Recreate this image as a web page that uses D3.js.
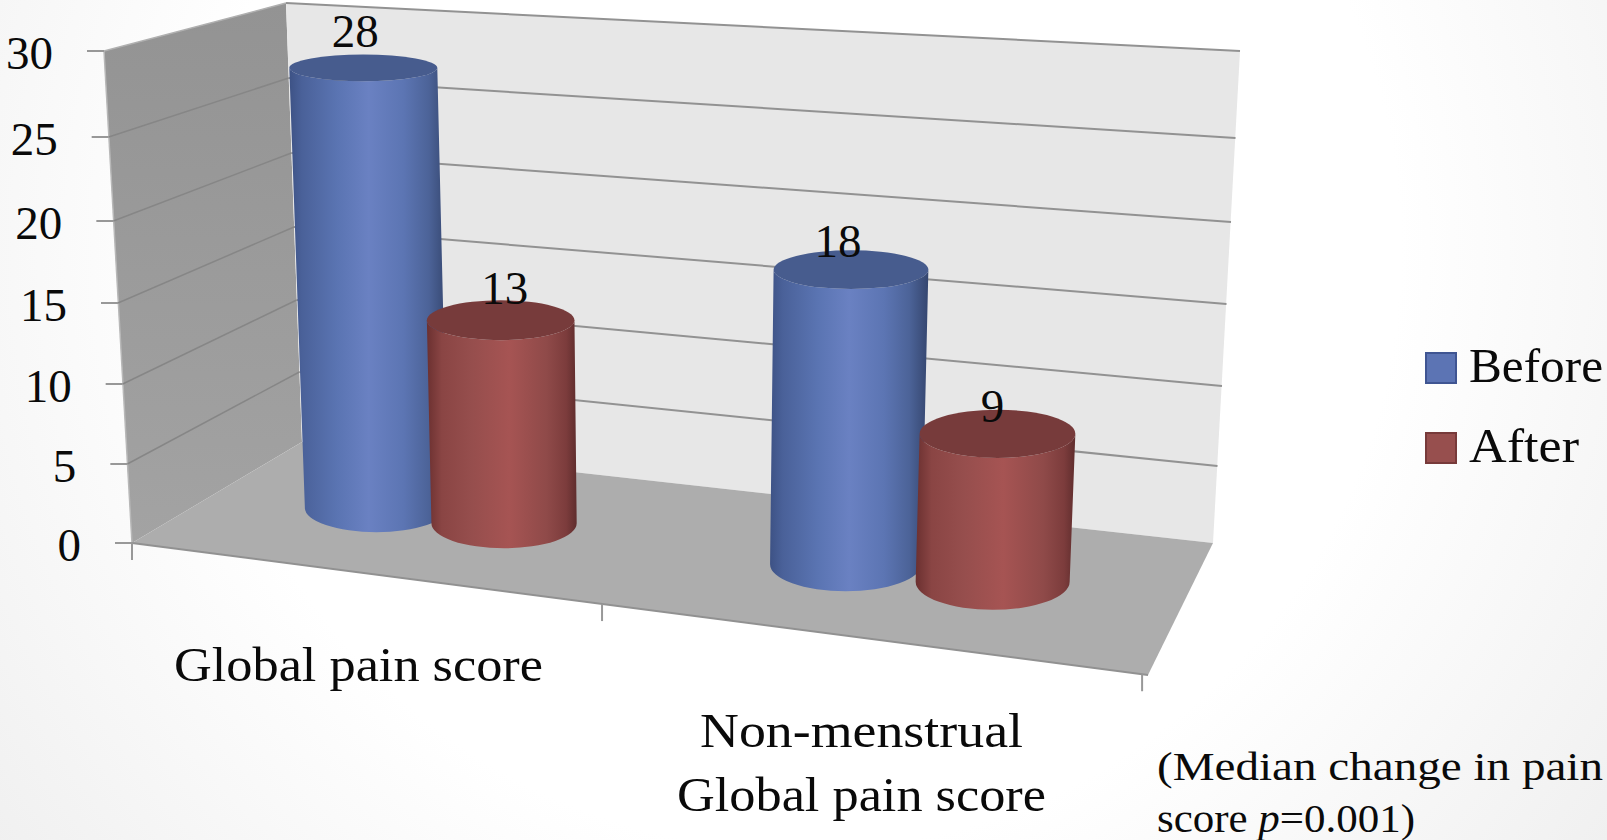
<!DOCTYPE html>
<html>
<head>
<meta charset="utf-8">
<title>Median pain score before and after</title>
<script src="https://cdn.jsdelivr.net/npm/d3@7/dist/d3.min.js"></script>
<style>
  html, body { margin: 0; padding: 0; background: #fff; }
  svg { display: block; }
  text { font-family: "Liberation Serif", "DejaVu Serif", serif; fill: #0a0a0a; }
</style>
</head>
<body>
<svg id="chart" width="1607" height="840"></svg>
<script>
// Chart data
const categories = ["Global pain score", "Non-menstrual Global pain score"];
const seriesNames = ["Before", "After"];
const beforeValues = [28, 18];
const afterValues = [13, 9];
const valueTicks = [0, 5, 10, 15, 20, 25, 30];

// Colours per series
const seriesStyle = {
  Before: {
    swatch: "#5c74b4", swatchEdge: "#3f5592", top: "#475c8e",
    stops: [[0, "#3d5285"], [0.08, "#4a6199"], [0.3, "#5a74b2"], [0.5, "#6a81c2"], [0.72, "#5c75b3"], [0.88, "#4c6398"], [1, "#35466f"]]
  },
  After: {
    swatch: "#974f4e", swatchEdge: "#773a3a", top: "#773b3b",
    stops: [[0, "#6b3030"], [0.1, "#8a4544"], [0.3, "#964e4d"], [0.55, "#a65453"], [0.8, "#8f4a49"], [0.93, "#7c3c3c"], [1, "#5f2d2d"]]
  }
};

const svg = d3.select("#chart");
const defs = svg.append("defs");

// Soft page backdrop, white in the middle and slightly grey towards the corners
const page = defs.append("radialGradient").attr("id", "pageBg")
  .attr("gradientUnits", "userSpaceOnUse")
  .attr("cx", 800).attr("cy", 250).attr("r", 1000);
page.append("stop").attr("offset", 0.6).attr("stop-color", "#ffffff");
page.append("stop").attr("offset", 1).attr("stop-color", "#f0f0f0");
svg.append("rect").attr("width", 1607).attr("height", 840).attr("fill", "url(#pageBg)");

const wallShade = defs.append("linearGradient").attr("id", "leftWall")
  .attr("x1", 0).attr("y1", 0).attr("x2", 0).attr("y2", 1);
wallShade.append("stop").attr("offset", 0).attr("stop-color", "#939393");
wallShade.append("stop").attr("offset", 1).attr("stop-color", "#a3a3a3");

seriesNames.forEach(name => {
  const g = defs.append("linearGradient").attr("id", "side" + name)
    .attr("x1", 0).attr("y1", 0).attr("x2", 1).attr("y2", 0);
  seriesStyle[name].stops.forEach(([o, c]) => g.append("stop").attr("offset", o).attr("stop-color", c));
});

// Value scales along the three visible upright edges of the plot box
const yFrontLeft = d3.scaleLinear().domain(valueTicks).range([543, 464, 384, 303, 221, 137, 51]);
const yBackLeft = d3.scaleLinear().domain(valueTicks).range([442, 372, 300, 227, 153, 78, 3]);
const yBackRight = d3.scaleLinear().domain(valueTicks).range([543, 466, 386, 304, 222, 138, 51]);
const xFrontLeft = d3.scaleLinear().domain([0, 30]).range([132, 104]);
const xBackLeft = d3.scaleLinear().domain([0, 30]).range([302, 286]);
const xBackRight = d3.scaleLinear().domain([0, 30]).range([1213, 1240]);

// Floor corners, and the projective map from floor coordinates (u along, d into the depth)
const FL = [132, 543], FR = [1148, 675], BR = [1213, 543], BL = [302, 442];
const floorMap = (() => {
  const dx1 = FR[0] - BR[0], dx2 = BL[0] - BR[0], sx = FL[0] - FR[0] + BR[0] - BL[0];
  const dy1 = FR[1] - BR[1], dy2 = BL[1] - BR[1], sy = FL[1] - FR[1] + BR[1] - BL[1];
  const den = dx1 * dy2 - dx2 * dy1;
  const g = (sx * dy2 - dx2 * sy) / den, h = (dx1 * sy - sx * dy1) / den;
  return (u, d) => {
    const w = 1 + g * u + h * d;
    return [
      (FL[0] + (FR[0] - FL[0] + g * FR[0]) * u + (BL[0] - FL[0] + h * BL[0]) * d) / w,
      (FL[1] + (FR[1] - FL[1] + g * FR[1]) * u + (BL[1] - FL[1] + h * BL[1]) * d) / w
    ];
  };
})();

// Height of the full value range at each floor corner, blended for a column's position
const fullHeight = (u, d) => {
  const front = 493 + (552 - 493) * u, back = 439 + (492 - 439) * u;
  return (front + (back - front) * d) * 0.994;
};
const heightShare = v => (yFrontLeft(0) - yFrontLeft(v)) / (yFrontLeft(0) - yFrontLeft(30));

// Uprights lean away from the centre of view
const lean = x => (x - 670) * 0.0001011;

// Column placement on the floor
const uBand = d3.scaleBand().domain(categories).range([0.002, 1.002]);
const uSeries = d3.scaleBand().domain(seriesNames).range([-0.143, 0.143]);
const columnDepth = 0.5;
const halfWidth = d3.scaleLinear().domain([377, 993]).range([71.5, 77]);
const ellipseRy = d3.scaleLinear().domain([67, 587]).range([13.5, 26.5]);

const columns = [];
categories.forEach((cat, i) => {
  seriesNames.forEach((name, s) => {
    const value = (s === 0 ? beforeValues : afterValues)[i];
    const u = uBand(cat) + uBand.bandwidth() / 2 + uSeries(name) + uSeries.bandwidth() / 2;
    const [bx, by] = floorMap(u, columnDepth);
    const rise = fullHeight(u, columnDepth) * heightShare(value);
    const tx = bx + lean(bx) * rise, ty = by - rise;
    const rb = halfWidth(bx), rt = rb * (1 + 0.00125 * value);
    // Ellipses open up slightly towards the nearer, right-hand end of the floor
    const open = 1 + 0.12 * (u - 0.3);
    columns.push({ cat, name, value, i, s, bx, by, tx, ty, rb, rt, ryb: ellipseRy(by) * open, ryt: ellipseRy(ty) * open });
  });
});

const pts = a => a.map(p => p.join(",")).join(" ");
const chart = svg.append("g");

// Plot box: left wall, back wall, floor
chart.append("polygon")
  .attr("points", pts([[xFrontLeft(30), yFrontLeft(30)], [xBackLeft(30), yBackLeft(30)], [xBackLeft(0), yBackLeft(0)], [xFrontLeft(0), yFrontLeft(0)]]))
  .attr("fill", "url(#leftWall)");
chart.append("polygon")
  .attr("points", pts([[xBackLeft(30), yBackLeft(30)], [xBackRight(30), yBackRight(30)], [xBackRight(0), yBackRight(0)], [xBackLeft(0), yBackLeft(0)]]))
  .attr("fill", "#e7e7e7");
chart.append("polygon")
  .attr("points", pts([FL, BL, BR, FR]))
  .attr("fill", "#adadad");
chart.append("line")
  .attr("x1", xFrontLeft(30)).attr("y1", yFrontLeft(30)).attr("x2", xFrontLeft(0)).attr("y2", yFrontLeft(0))
  .attr("stroke", "#b8b8b8").attr("stroke-width", 1.5);

// Gridlines across both walls
const gridTicks = valueTicks.filter(v => v > 0);
chart.selectAll("line.gridLeft").data(gridTicks).join("line").attr("class", "gridLeft")
  .attr("x1", v => xFrontLeft(v)).attr("y1", v => yFrontLeft(v))
  .attr("x2", v => xBackLeft(v)).attr("y2", v => yBackLeft(v))
  .attr("stroke", v => v === 30 ? "#b0b0b0" : "#868686").attr("stroke-width", 1.5);
chart.selectAll("line.gridBack").data(gridTicks).join("line").attr("class", "gridBack")
  .attr("x1", v => xBackLeft(v)).attr("y1", v => yBackLeft(v))
  .attr("x2", v => xBackRight(v)).attr("y2", v => yBackRight(v))
  .attr("stroke", "#929292").attr("stroke-width", 2);

// Front edge of the floor and the axis ticks
chart.append("line")
  .attr("x1", FL[0]).attr("y1", FL[1]).attr("x2", FR[0]).attr("y2", FR[1])
  .attr("stroke", "#919191").attr("stroke-width", 2);
const tickLen = 17;
chart.selectAll("line.valueTick").data(valueTicks).join("line").attr("class", "valueTick")
  .attr("x1", v => xFrontLeft(v) - tickLen).attr("y1", v => yFrontLeft(v))
  .attr("x2", v => xFrontLeft(v)).attr("y2", v => yFrontLeft(v))
  .attr("stroke", "#989898").attr("stroke-width", 2);
const catTicks = [0, 0.5, 0.995];
chart.selectAll("line.catTick").data(catTicks).join("line").attr("class", "catTick")
  .attr("x1", u => floorMap(u, 0)[0]).attr("y1", u => floorMap(u, 0)[1])
  .attr("x2", u => floorMap(u, 0)[0]).attr("y2", u => floorMap(u, 0)[1] + tickLen)
  .attr("stroke", "#989898").attr("stroke-width", 2);

// Cylinders, drawn left to right so each overlaps the previous one
const cyl = chart.selectAll("g.column").data(columns).join("g").attr("class", "column");
cyl.append("path")
  .attr("d", c => `M${c.tx - c.rt},${c.ty} L${c.bx - c.rb},${c.by} A${c.rb},${c.ryb} 0 0 0 ${c.bx + c.rb},${c.by} L${c.tx + c.rt},${c.ty} A${c.rt},${c.ryt} 0 0 1 ${c.tx - c.rt},${c.ty} Z`)
  .attr("fill", c => `url(#side${c.name})`);
cyl.append("ellipse")
  .attr("cx", c => c.tx).attr("cy", c => c.ty)
  .attr("rx", c => c.rt).attr("ry", c => c.ryt)
  .attr("fill", c => seriesStyle[c.name].top);

// Value labels sit just above each cylinder's centre
const labelNudge = [[-8, -21], [4, -16], [-13, -13], [-5, -12]];
chart.selectAll("text.valueLabel").data(columns).join("text").attr("class", "valueLabel")
  .attr("x", (c, i) => c.tx + labelNudge[i][0]).attr("y", (c, i) => c.ty + labelNudge[i][1])
  .attr("text-anchor", "middle").attr("font-size", 47)
  .text(c => c.value);

// Value axis labels
chart.selectAll("text.valueTickLabel").data(valueTicks).join("text").attr("class", "valueTickLabel")
  .attr("x", v => xFrontLeft(v) - tickLen - 34).attr("y", v => yFrontLeft(v) + 18)
  .attr("text-anchor", "end").attr("font-size", 47)
  .text(v => v);

// Category labels, with the second one broken over two lines
function fitted(parent, x, y, width, size, str) {
  return parent.append("text").attr("x", x).attr("y", y).attr("font-size", size)
    .attr("textLength", width).attr("lengthAdjust", "spacingAndGlyphs").text(str);
}
fitted(chart, 174, 681, 369, 49, categories[0]);
const secondLines = ["Non-menstrual", "Global pain score"];
fitted(chart, 700, 747, 323, 49, secondLines[0]);
fitted(chart, 677, 811, 369, 49, secondLines[1]);

// Legend
const legendY = d3.scalePoint().domain(seriesNames).range([352, 432]);
const legendWidth = { Before: 134, After: 110 };
const legend = chart.selectAll("g.legendItem").data(seriesNames).join("g").attr("class", "legendItem");
legend.append("rect")
  .attr("x", 1426).attr("y", n => legendY(n) + 1).attr("width", 30).attr("height", 30)
  .attr("fill", n => seriesStyle[n].swatch).attr("stroke", n => seriesStyle[n].swatchEdge).attr("stroke-width", 2);
legend.each(function (n) {
  fitted(d3.select(this), 1469, legendY(n) + 29.5, legendWidth[n], 49, n);
});

// Significance note
fitted(chart, 1157, 780, 446, 41, "(Median change in pain");
const note = chart.append("text").attr("x", 1157).attr("y", 832).attr("font-size", 41)
  .attr("textLength", 258).attr("lengthAdjust", "spacingAndGlyphs");
note.append("tspan").text("score ");
note.append("tspan").attr("font-style", "italic").text("p");
note.append("tspan").text("=0.001)");
</script>
</body>
</html>
